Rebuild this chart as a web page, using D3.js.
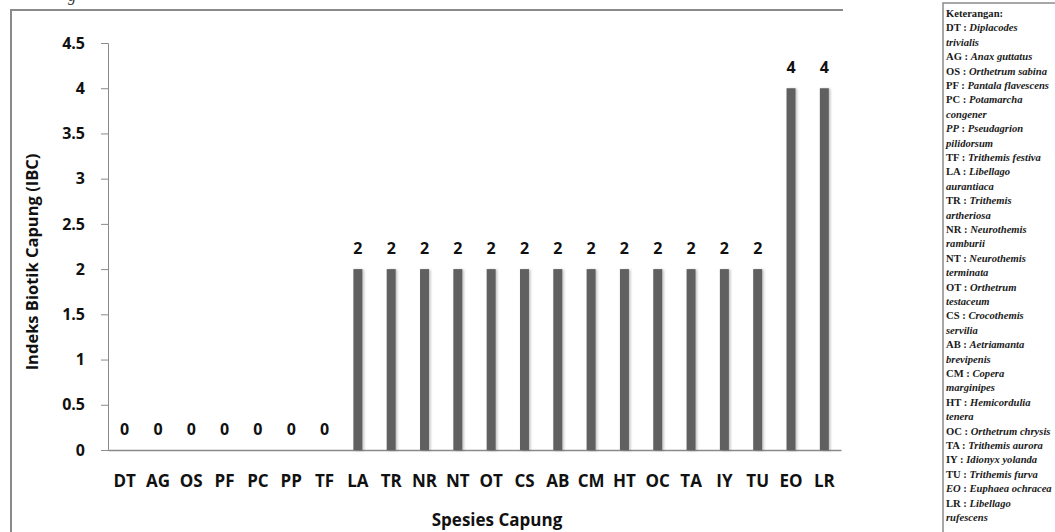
<!DOCTYPE html>
<html>
<head>
<meta charset="utf-8">
<script src="https://cdn.jsdelivr.net/npm/d3@7"></script>
<style>
  body { margin: 0; background: #fff; }
  svg { display: block; }
</style>
</head>
<body>
<div id="chart"></div>
<script>
// Data
const categories = ['DT', 'AG', 'OS', 'PF', 'PC', 'PP', 'TF', 'LA', 'TR', 'NR', 'NT',
  'OT', 'CS', 'AB', 'CM', 'HT', 'OC', 'TA', 'IY', 'TU', 'EO', 'LR'];
const values = [0, 0, 0, 0, 0, 0, 0, 2, 2, 2, 2, 2, 2, 2, 2, 2, 2, 2, 2, 2, 4, 4];
const yTicks = [0, 0.5, 1, 1.5, 2, 2.5, 3, 3.5, 4, 4.5];

// Legend lines: [code, species, italic code]
const legendRows = [
  ['DT', 'Diplacodes', false], ['', 'trivialis'],
  ['AG', 'Anax guttatus', false],
  ['OS', 'Orthetrum sabina', false],
  ['PF', 'Pantala flavescens', false],
  ['PC', 'Potamarcha', false], ['', 'congener'],
  ['PP', 'Pseudagrion', true], ['', 'pilidorsum'],
  ['TF', 'Trithemis festiva', false],
  ['LA', 'Libellago', false], ['', 'aurantiaca'],
  ['TR', 'Trithemis', false], ['', 'artheriosa'],
  ['NR', 'Neurothemis', false], ['', 'ramburii'],
  ['NT', 'Neurothemis', false], ['', 'terminata'],
  ['OT', 'Orthetrum', false], ['', 'testaceum'],
  ['CS', 'Crocothemis', false], ['', 'servilia'],
  ['AB', 'Aetriamanta', false], ['', 'brevipenis'],
  ['CM', 'Copera', false], ['', 'marginipes'],
  ['HT', 'Hemicordulia', false], ['', 'tenera'],
  ['OC', 'Orthetrum chrysis', false],
  ['TA', 'Trithemis aurora', false],
  ['IY', 'Idionyx yolanda', false],
  ['TU', 'Trithemis furva', false],
  ['EO', 'Euphaea ochracea', true],
  ['LR', 'Libellago', false], ['', 'rufescens']
];

const data = categories.map((c, i) => ({ cat: c, val: values[i] }));

const W = 1055, H = 532;
const plot = { left: 108, right: 841, top: 43, bottom: 450 };
const font = "'Open Sans', sans-serif";

const svg = d3.select('#chart')
  .append('svg')
  .attr('width', W)
  .attr('height', H);

// soft shadow for the bars
const defs = svg.append('defs');
const f = defs.append('filter').attr('id', 'shadow')
  .attr('x', '-50%').attr('y', '-10%').attr('width', '200%').attr('height', '120%');
f.append('feDropShadow')
  .attr('dx', 1.5).attr('dy', 0.5)
  .attr('stdDeviation', 1.3)
  .attr('flood-color', '#000')
  .attr('flood-opacity', 0.25);

// cut-off caption remnant above the frame
svg.append('text')
  .attr('x', 68).attr('y', 1)
  .style('font-family', "'Liberation Serif', serif")
  .style('font-style', 'italic')
  .style('font-size', '16px')
  .attr('fill', '#333')
  .text('g');

// chart frame (top and left edges visible)
svg.append('path')
  .attr('d', `M11,${H} L11,10 L843,10`)
  .attr('fill', 'none')
  .attr('stroke', '#8a8a8a')
  .attr('stroke-width', 2);

// Scales
const x = d3.scaleBand()
  .domain(categories)
  .range([plot.left, plot.right]);

const y = d3.scaleLinear()
  .domain([0, 4.5])
  .range([plot.bottom, plot.top]);

// Y axis
const yAxis = svg.append('g')
  .attr('transform', `translate(${plot.left},0)`)
  .call(d3.axisLeft(y).tickValues(yTicks).tickSize(7).tickPadding(16)
    .tickFormat(d => String(d)));
yAxis.select('.domain').attr('stroke', '#8a8a8a');
yAxis.selectAll('.tick line').attr('stroke', '#8a8a8a');
yAxis.selectAll('.tick text')
  .style('font-family', font)
  .style('font-weight', 'bold')
  .style('font-size', '16px')
  .attr('fill', '#111');

// X axis
const xAxis = svg.append('g')
  .attr('transform', `translate(0,${plot.bottom})`)
  .call(d3.axisBottom(x).tickSize(0).tickPadding(25));
xAxis.select('.domain').attr('stroke', '#8a8a8a').attr('stroke-width', 1.5);
xAxis.selectAll('.tick text')
  .style('font-family', font)
  .style('font-weight', 'bold')
  .style('font-size', '17px')
  .attr('fill', '#111');

// Bars
const barW = 9;
svg.append('g')
  .selectAll('rect')
  .data(data.filter(d => d.val > 0))
  .enter()
  .append('rect')
  .attr('x', d => x(d.cat) + x.bandwidth() / 2 - barW / 2)
  .attr('y', d => y(d.val))
  .attr('width', barW)
  .attr('height', d => y(0) - y(d.val))
  .attr('fill', '#606060')
  .attr('filter', 'url(#shadow)');

// Value labels
svg.append('g')
  .selectAll('text')
  .data(data)
  .enter()
  .append('text')
  .attr('x', d => x(d.cat) + x.bandwidth() / 2)
  .attr('y', d => y(d.val) - 15)
  .attr('text-anchor', 'middle')
  .style('font-family', font)
  .style('font-weight', 'bold')
  .style('font-size', '16px')
  .attr('fill', '#111')
  .text(d => d.val);

// Axis titles
svg.append('text')
  .attr('x', 497).attr('y', 526)
  .attr('text-anchor', 'middle')
  .style('font-family', font)
  .style('font-weight', 'bold')
  .style('font-size', '17px')
  .attr('fill', '#111')
  .text('Spesies Capung');

svg.append('text')
  .attr('transform', 'translate(38,262) rotate(-90)')
  .attr('text-anchor', 'middle')
  .style('font-family', font)
  .style('font-weight', 'bold')
  .style('font-size', '16.5px')
  .attr('fill', '#111')
  .text('Indeks Biotik Capung (IBC)');

// Legend box ("Keterangan")
svg.append('path')
  .attr('d', `M943,${H} L943,3 L${W},3`)
  .attr('fill', 'none')
  .attr('stroke', '#8a8a8a')
  .attr('stroke-width', 1.5);

const lg = svg.append('g')
  .style('font-family', "'Liberation Serif', 'Times New Roman', serif")
  .style('font-size', '10.6px')
  .style('font-weight', 'bold')
  .attr('fill', '#1a1a1a');

const lineH = 14.4;
lg.append('text').attr('x', 946).attr('y', 17).text('Keterangan:');

legendRows.forEach((r, i) => {
  const t = lg.append('text').attr('x', 946).attr('y', 17 + (i + 1) * lineH);
  if (r[0]) {
    t.append('tspan').style('font-style', r[2] ? 'italic' : 'normal').text(r[0]);
    t.append('tspan').text(' : ');
  }
  t.append('tspan').style('font-style', 'italic').text(r[1]);
});
</script>
</body>
</html>
